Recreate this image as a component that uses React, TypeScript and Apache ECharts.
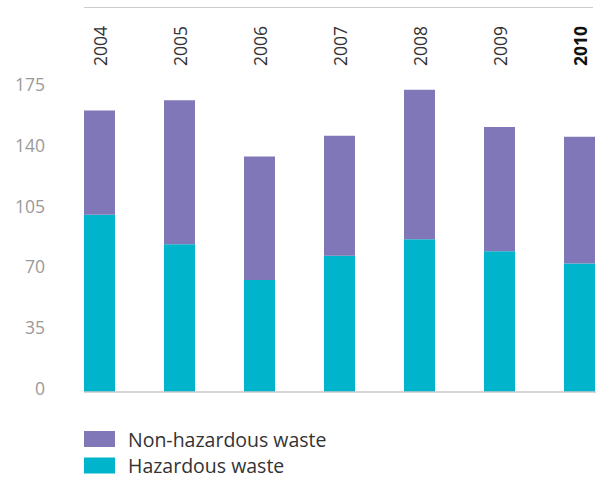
import React, { useEffect, useRef } from "react";
import * as echarts from "echarts";

const years = ["2004", "2005", "2006", "2007", "2008", "2009", "2010"];
const hazardous = [102, 85, 64.5, 78.5, 88, 81, 74];
const nonHazardous = [60, 83, 71, 69, 86, 71.5, 73];
const yTicks = { min: 0, max: 175, interval: 35 };

const PURPLE = "#7F77B7";
const TEAL = "#00B4CC";
const FONT = "'Open Sans', 'Noto Sans', sans-serif";

const legendBase = {
  orient: "vertical",
  left: 84,
  padding: 0,
  itemWidth: 31,
  itemHeight: 16,
  icon: "rect",
  textStyle: { fontSize: 19.5, lineHeight: 20, color: "#333333", fontFamily: FONT, padding: [0, 0, 0, 8] },
};

export default function App() {
  const ref = useRef<HTMLDivElement>(null);
  useEffect(() => {
    if (!ref.current) return;
    const chart = echarts.init(ref.current, null, { renderer: "svg" });
    chart.setOption({
      animation: false,
      textStyle: { fontFamily: FONT },
      grid: { left: 59.5, top: 88, width: 560, height: 304, outerBoundsMode: "none", containLabel: false },
      graphic: [
        { type: "line", shape: { x1: 84, y1: 7.5, x2: 593, y2: 7.5 }, style: { stroke: "#cccccc", lineWidth: 1 } },
        { type: "line", shape: { x1: 84, y1: 392, x2: 596, y2: 392 }, style: { stroke: "#c8c8c8", lineWidth: 1.5 }, z: 10 },
      ],
      legend: [
        { ...legendBase, top: 429, data: ["Non-hazardous waste"] },
        { ...legendBase, top: 455.5, data: ["Hazardous waste"] },
      ],
      xAxis: {
        type: "category",
        data: years,
        position: "top",
        axisLine: { show: false },
        axisTick: { show: false },
        axisLabel: {
          rotate: 90,
          margin: 22,
          fontSize: 17.5,
          color: "#333333",
          fontFamily: FONT,
          formatter: (v: string) => (v === "2010" ? "{b|" + v + "}" : v),
          rich: { b: { fontWeight: "bold", color: "#111111", fontSize: 17.5, fontFamily: FONT } },
        },
      },
      yAxis: {
        type: "value",
        min: yTicks.min,
        max: yTicks.max,
        interval: yTicks.interval,
        axisLine: { show: false },
        axisTick: { show: false },
        splitLine: { show: false },
        axisLabel: {
          fontSize: 17.5,
          color: "#9a9a9a",
          margin: 14.5,
          verticalAlign: "bottom",
          lineHeight: 8,
          fontFamily: FONT,
        },
      },
      series: [
        {
          name: "Hazardous waste",
          type: "bar",
          stack: "total",
          data: hazardous,
          barWidth: 31,
          itemStyle: { color: TEAL },
        },
        {
          name: "Non-hazardous waste",
          type: "bar",
          stack: "total",
          data: nonHazardous,
          barWidth: 31,
          itemStyle: { color: PURPLE },
        },
      ],
    });
    return () => chart.dispose();
  }, []);
  return <div ref={ref} style={{ width: 602, height: 479, position: "absolute", left: 0, top: 0 }} />;
}
